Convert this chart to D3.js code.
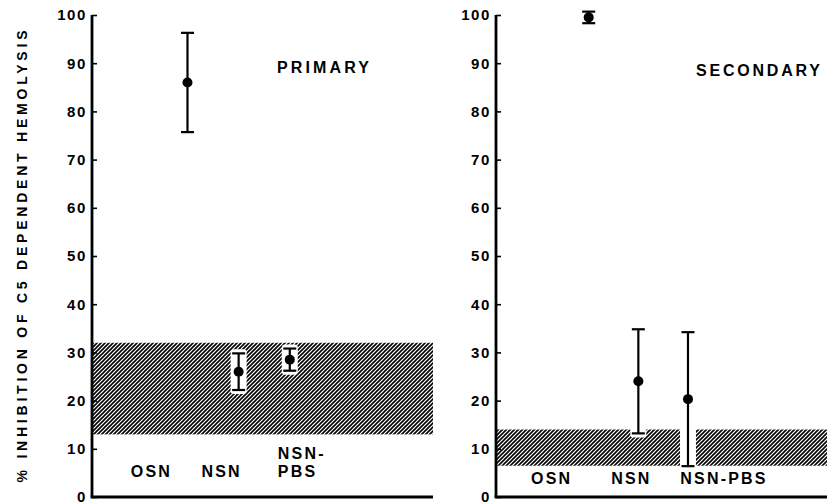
<!DOCTYPE html>
<html lang="en">
<head>
<meta charset="UTF-8">
<title>% Inhibition of C5 dependent hemolysis</title>
<script src="https://d3js.org/d3.v7.min.js"></script>
<style>
  html, body { margin: 0; padding: 0; background: #fff; }
  svg text { font-family: "Liberation Sans", Arial, sans-serif; font-weight: bold; fill: #000; }
</style>
</head>
<body>
<svg id="chart" width="827" height="504"></svg>
<script>
// values
const categories = ["OSN", "NSN", "NSN-PBS"];
const primaryMean = [86, 26, 28.5];
const primaryErr = [10.3, 3.8, 2.3];
const primaryBand = [13, 32];
const secondaryMean = [99.5, 24, 20.3];
const secondaryErr = [1.2, 10.8, 13.9];
const secondaryBand = [6.5, 14];
const yTicks = [0, 10, 20, 30, 40, 50, 60, 70, 80, 90, 100];
const yTitle = "% INHIBITION OF C5 DEPENDENT HEMOLYSIS";

const svg = d3.select("#chart");
const y = d3.scaleLinear().domain([0, 100]).range([497, 15]);

// hatch for the normal range band
const defs = svg.append("defs");
defs.append("pattern")
    .attr("id", "hatch")
    .attr("patternUnits", "userSpaceOnUse")
    .attr("width", 4).attr("height", 4)
  .append("path")
    .attr("d", "M-1,1 l2,-2 M0,4 l4,-4 M3,5 l2,-2")
    .attr("stroke", "#000")
    .attr("stroke-width", 1.6);

const panels = [
  {title: "PRIMARY", mean: primaryMean, err: primaryErr, band: primaryBand,
   x0: 92, x1: 433, titleX: 277, titleY: 73, titleLen: 92,
   labelDx: [-36, -17, -12], labelY: 477, twoLine: true},
  {title: "SECONDARY", mean: secondaryMean, err: secondaryErr, band: secondaryBand,
   x0: 496, x1: 827, titleX: 696, titleY: 76, titleLen: 124,
   labelDx: [-37, -7, 36], labelY: 484, twoLine: false}
];

panels.forEach(p => {
  const x = d3.scaleLinear().domain([-1.867, 4.8]).range([p.x0, p.x1]);
  const g = svg.append("g");

  g.append("rect")
    .attr("x", p.x0).attr("width", p.x1 - p.x0)
    .attr("y", y(p.band[1])).attr("height", y(p.band[0]) - y(p.band[1]))
    .attr("fill", "url(#hatch)");

  // y axis
  const axis = g.append("g")
    .attr("transform", `translate(${p.x0},0)`)
    .call(d3.axisRight(y).tickValues(yTicks).tickSize(5).tickFormat(""));
  axis.select(".domain").remove();
  axis.selectAll("line").attr("stroke", "#000").attr("stroke-width", 1.6);
  g.append("line")
    .attr("x1", p.x0).attr("x2", p.x0).attr("y1", y(100)).attr("y2", y(0))
    .attr("stroke", "#000").attr("stroke-width", 2.8);
  g.append("line")
    .attr("x1", p.x0 - 1.4).attr("x2", p.x1).attr("y1", y(0)).attr("y2", y(0))
    .attr("stroke", "#000").attr("stroke-width", 2.8);

  g.selectAll("text.tick-label")
    .data(yTicks)
    .join("text")
      .attr("class", "tick-label")
      .attr("x", p.x0 - 5)
      .attr("y", d => y(d))
      .attr("dy", "0.36em")
      .attr("text-anchor", "end")
      .attr("font-size", 15)
      .attr("letter-spacing", 1.6)
      .text(d => d);

  g.append("text")
    .attr("x", p.titleX).attr("y", p.titleY)
    .attr("font-size", 16)
    .attr("textLength", p.titleLen)
    .attr("lengthAdjust", "spacing")
    .text(p.title);

  // category labels
  categories.forEach((c, i) => {
    const lx = x(i) + p.labelDx[i];
    if (p.twoLine && c.includes("-")) {
      const parts = c.split("-");
      g.append("text").attr("x", lx).attr("y", p.labelY - 18)
        .attr("font-size", 16).attr("letter-spacing", 2.2).text(parts[0] + "-");
      g.append("text").attr("x", lx).attr("y", p.labelY)
        .attr("font-size", 16).attr("letter-spacing", 2.2).text(parts[1]);
    } else {
      g.append("text").attr("x", lx).attr("y", p.labelY)
        .attr("text-anchor", "middle")
        .attr("font-size", 16).attr("letter-spacing", 2.2).text(c);
    }
  });

  // error bars, with the hatch cleared behind them
  const pts = categories.map((c, i) => ({i, m: p.mean[i], e: p.err[i]}));
  const bars = g.selectAll("g.pt").data(pts).join("g").attr("class", "pt");
  const capW = 6.5;
  bars.append("rect")
    .attr("x", d => x(d.i) - 8).attr("width", 16)
    .attr("y", d => y(d.m + d.e) - 4)
    .attr("height", d => y(d.m - d.e) - y(d.m + d.e) + 8)
    .attr("rx", 3)
    .attr("fill", "#fff");
  bars.append("line")
    .attr("x1", d => x(d.i)).attr("x2", d => x(d.i))
    .attr("y1", d => y(d.m + d.e)).attr("y2", d => y(d.m - d.e))
    .attr("stroke", "#000").attr("stroke-width", 2.2);
  [1, -1].forEach(s => {
    bars.append("line")
      .attr("x1", d => x(d.i) - capW).attr("x2", d => x(d.i) + capW)
      .attr("y1", d => y(d.m + s * d.e)).attr("y2", d => y(d.m + s * d.e))
      .attr("stroke", "#000").attr("stroke-width", 2.2);
  });
  bars.append("circle")
    .attr("cx", d => x(d.i)).attr("cy", d => y(d.m)).attr("r", 5)
    .attr("fill", "#000");
});

// y axis title
svg.append("text")
  .attr("transform", `translate(27,${(30 + 483) / 2}) rotate(-90)`)
  .attr("text-anchor", "middle")
  .attr("font-size", 14)
  .attr("textLength", 452)
  .attr("lengthAdjust", "spacing")
  .text(yTitle);
</script>
</body>
</html>
